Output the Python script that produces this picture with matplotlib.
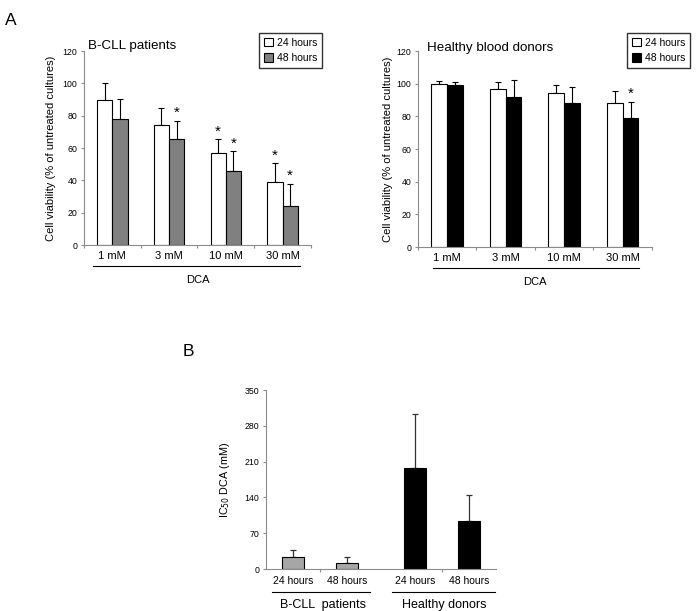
import numpy as np
import matplotlib.pyplot as plt
from matplotlib.patches import Patch
import matplotlib.transforms as mtransforms

plt.rcParams['font.family'] = ['Liberation Sans', 'DejaVu Sans']

# Dados do painel A
doses = ['1 mM', '3 mM', '10 mM', '30 mM']
cll_24 = [90, 74, 57, 39]
cll_24_err = [10, 11, 8.5, 11.5]
cll_48 = [78, 65.5, 46, 24]
cll_48_err = [12.5, 11.5, 12, 14]
cll_star_24 = [False, False, True, True]
cll_star_48 = [False, True, True, True]

hd_24 = [100, 97, 94.5, 88]
hd_24_err = [1.5, 4, 4.5, 7.5]
hd_48 = [99, 92, 88, 79]
hd_48_err = [2, 10.5, 10, 10]
hd_star_24 = [False, False, False, False]
hd_star_48 = [False, False, False, True]

# Dados do painel B
ic50_labels = ['24 hours', '48 hours', '24 hours', '48 hours']
ic50_vals = [24, 12, 198, 93]
ic50_err = [14, 12, 106, 52]
ic50_groups = ['B-CLL  patients', 'Healthy donors']

fig = plt.figure(figsize=(6.96, 6.11), dpi=100)
axis_gray = '#8c8c8c'


def painel_a(ax, v24, e24, v48, e48, s24, s48, cor48, titulo, tit_xy, leg_x, lin, ylab_x):
    x = np.arange(len(doses)) + 0.5
    w = 0.27
    ax.bar(x - w / 2, v24, w, color='white', edgecolor='black', linewidth=0.8, zorder=2)
    ax.bar(x + w / 2, v48, w, color=cor48, edgecolor='black', linewidth=0.8, zorder=2)
    ax.errorbar(x - w / 2, v24, yerr=[np.zeros(4), e24], fmt='none', ecolor='black',
                elinewidth=0.8, capsize=2, capthick=0.8, zorder=1)
    ax.errorbar(x + w / 2, v48, yerr=[np.zeros(4), e48], fmt='none', ecolor='black',
                elinewidth=0.8, capsize=2, capthick=0.8, zorder=1)
    for i in range(4):
        if s24[i]:
            ax.text(x[i] - w / 2, v24[i] + e24[i] + 0.5, '*', ha='center', va='bottom', fontsize=11)
        if s48[i]:
            ax.text(x[i] + w / 2, v48[i] + e48[i] + 0.5, '*', ha='center', va='bottom', fontsize=11)
    ax.set_xlim(0, 4)
    ax.set_ylim(0, 120)
    ax.set_yticks(range(0, 121, 20))
    ax.set_xticks(range(0, 5))
    ax.set_xticklabels([])
    ax.set_xticks(x, minor=True)
    ax.set_xticklabels(doses, minor=True, fontsize=8)
    ax.tick_params(axis='x', which='minor', length=0, pad=4)
    ax.tick_params(axis='x', which='major', length=2, color=axis_gray)
    ax.tick_params(axis='y', length=2, color=axis_gray, labelsize=6.3, pad=3)
    for s in ['top', 'right']:
        ax.spines[s].set_visible(False)
    for s in ['left', 'bottom']:
        ax.spines[s].set_color(axis_gray)
        ax.spines[s].set_linewidth(0.8)
    ax.set_ylabel('Cell viability (% of untreated cultures)', fontsize=8)
    ax.yaxis.set_label_coords(ylab_x, 0.5)
    ax.text(tit_xy[0], tit_xy[1], titulo, transform=ax.transAxes, fontsize=9.6,
            va='center', ha='left')
    trans = mtransforms.blended_transform_factory(ax.transData, ax.transAxes)
    ax.plot(lin, [-0.108, -0.108], color='black', linewidth=0.8, transform=trans, clip_on=False)
    ax.text(2, -0.18, 'DCA', transform=trans, ha='center', va='center', fontsize=8)
    handles = [Patch(facecolor='white', edgecolor='black', linewidth=0.8, label='24 hours'),
               Patch(facecolor=cor48, edgecolor='black', linewidth=0.8, label='48 hours')]
    ax.legend(handles=handles, loc='upper left', bbox_to_anchor=(leg_x, 0.946),
              bbox_transform=fig.transFigure, fontsize=7.5, frameon=True, fancybox=False,
              edgecolor='black', handlelength=0.9, handleheight=0.9, handletextpad=0.4,
              borderpad=0.45, labelspacing=0.5, borderaxespad=0)


ax1 = fig.add_axes([0.1207, 0.599, 0.326, 0.3175])
painel_a(ax1, cll_24, cll_24_err, cll_48, cll_48_err, cll_star_24, cll_star_48,
         '#808080', 'B-CLL patients', (0.018, 1.028), 0.372, [0.16, 3.8], -0.125)

ax2 = fig.add_axes([0.6006, 0.5957, 0.336, 0.3208])
painel_a(ax2, hd_24, hd_24_err, hd_48, hd_48_err, hd_star_24, hd_star_48,
         'black', 'Healthy blood donors', (0.04, 1.017), 0.901, [0.26, 3.78], -0.107)

fig.text(0.007, 0.978, 'A', fontsize=12.5, va='top', ha='left')

# Painel B
ax3 = fig.add_axes([0.3822, 0.0687, 0.3305, 0.293])
xb = np.array([0.5, 1.5, 2.75, 3.75])
cores_b = ['#a6a6a6', '#a6a6a6', 'black', 'black']
ax3.bar(xb, ic50_vals, 0.41, color=cores_b, edgecolor='black', linewidth=0.8, zorder=2)
ax3.errorbar(xb, ic50_vals, yerr=[np.zeros(4), ic50_err], fmt='none', ecolor='#333333',
             elinewidth=0.9, capsize=2, capthick=0.9, zorder=1)
ax3.set_xlim(0, 4.25)
ax3.set_ylim(0, 350)
ax3.set_yticks(range(0, 351, 70))
ax3.set_xticks([1.0, 3.25])
ax3.set_xticklabels([])
ax3.set_xticks(xb, minor=True)
ax3.set_xticklabels(ic50_labels, minor=True, fontsize=7.5)
ax3.tick_params(axis='x', which='minor', length=0, pad=5)
ax3.tick_params(axis='x', which='major', length=2, color=axis_gray)
ax3.tick_params(axis='y', length=2, color=axis_gray, labelsize=6.3, pad=3)
for s in ['top', 'right']:
    ax3.spines[s].set_visible(False)
for s in ['left', 'bottom']:
    ax3.spines[s].set_color(axis_gray)
    ax3.spines[s].set_linewidth(0.8)
ax3.set_ylabel('IC$_{50}$ DCA (mM)', fontsize=7.8)
ax3.yaxis.set_label_coords(-0.15, 0.5)
tb = mtransforms.blended_transform_factory(ax3.transData, ax3.transAxes)
ax3.plot([0.11, 1.93], [-0.127, -0.127], color='black', linewidth=0.8, transform=tb, clip_on=False)
ax3.plot([2.33, 4.24], [-0.127, -0.127], color='black', linewidth=0.8, transform=tb, clip_on=False)
ax3.text(1.05, -0.2, ic50_groups[0], transform=tb, ha='center', va='center', fontsize=9)
ax3.text(3.3, -0.2, ic50_groups[1], transform=tb, ha='center', va='center', fontsize=9)

fig.text(0.262, 0.437, 'B', fontsize=12.5, va='top', ha='left')

fig.savefig('out.png', dpi=100)
